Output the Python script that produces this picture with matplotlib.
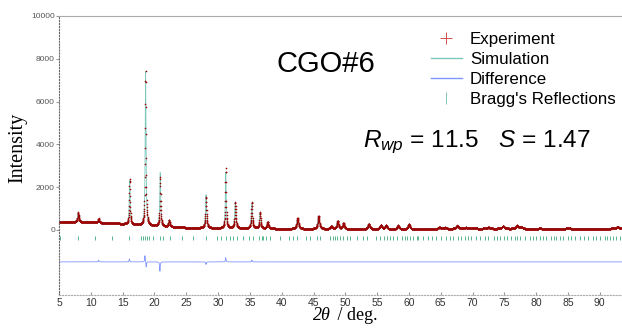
import numpy as np
import matplotlib.pyplot as plt
from matplotlib.lines import Line2D

plt.rcParams['font.family'] = ['Liberation Sans', 'DejaVu Sans']
plt.rcParams['mathtext.fontset'] = 'custom'
plt.rcParams['mathtext.rm'] = 'Liberation Sans'
plt.rcParams['mathtext.it'] = 'Liberation Sans:italic'

# background intensity read at a few angles
bg_pos = [5, 10, 15, 17, 20, 25, 30, 40, 50, 60, 70, 80, 93.5]
bg_val = [380, 350, 280, 220, 180, 100, 80, 50, 30, 20, 60, 40, 60]

# peaks: position (deg), height above background, fwhm (deg)
peak_pos = [8.0, 11.2, 16.1, 18.6, 20.9, 22.3, 28.1, 31.2, 32.7, 35.3, 36.6,
            37.8, 42.5, 45.8, 47.8, 48.8, 49.7, 53.7, 55.6, 56.4, 58.3, 60.0,
            64.8, 65.7, 67.6, 69.0, 72.5, 74.8, 77.0, 77.7, 80.6, 85.0, 92.8]
peak_h = [450, 120, 2050, 7200, 2500, 300, 1550, 2600, 1200, 1150, 750,
          320, 500, 600, 150, 380, 280, 250, 200, 180, 180, 250,
          80, 60, 150, 50, 60, 120, 150, 80, 40, 50, 80]
peak_w = [0.22, 0.25, 0.16, 0.15, 0.16, 0.22, 0.18, 0.15, 0.2, 0.2, 0.2,
          0.25, 0.3, 0.3, 0.3, 0.3, 0.3, 0.35, 0.35, 0.35, 0.35, 0.35,
          0.4, 0.4, 0.4, 0.4, 0.4, 0.45, 0.45, 0.45, 0.45, 0.5, 0.5]

# misfit (experiment - simulation) features
res_pos = [11.2, 16.05, 18.5, 18.7, 20.85, 28.1, 31.2, 35.3]
res_amp = [80, 150, 300, -250, -450, -120, 200, 80]

bragg_pos = [5.16, 8.03, 10.66, 13.28, 16.05, 17.83, 18.15, 18.46, 18.78, 19.14,
             19.81, 20.87, 21.39, 22.44, 24.28, 26.1, 28.09, 29.77, 30.4, 31.24,
             31.87, 32.39, 33.0, 33.86, 34.9, 35.43, 36.47, 36.85, 37.1, 37.6,
             38.15, 39.72, 41.2, 41.7, 42.34, 43.8, 44.43, 45.5, 46.0, 47.58,
             48.0, 48.36, 48.72, 49.15, 49.57, 50.2, 50.7, 51.8, 52.8, 53.34,
             54.9, 55.43, 56.06, 56.5, 57.0, 57.5, 58.15, 58.84, 59.36, 59.62,
             60.15, 60.66, 61.2, 61.45, 62.24, 63.02, 63.55, 64.33, 65.12, 65.9,
             66.43, 66.95, 67.73, 68.26, 68.78, 69.31, 69.83, 70.62, 71.14, 71.93,
             72.45, 73.34, 73.86, 74.28, 74.91, 75.43, 76.11, 76.64, 77.0, 77.42,
             78.21, 78.99, 79.52, 80.04, 80.57, 81.09, 81.61, 82.4, 82.77, 83.18,
             83.71, 84.23, 85.02, 85.54, 86.06, 86.85, 87.48, 88.16, 88.94, 89.47,
             90.1, 90.78, 91.14, 91.56, 92.09, 92.61, 93.13]

diff_offset = -1500
bragg_y = -380

tth = np.arange(5.0, 93.5, 0.02)
sim = np.interp(tth, bg_pos, bg_val)
for p, h, w in zip(peak_pos, peak_h, peak_w):
    g = (w / 2) ** 2
    sim = sim + h * g / ((tth - p) ** 2 + g)
res = np.zeros_like(tth)
for p, a in zip(res_pos, res_amp):
    res = res + a * 0.0025 / ((tth - p) ** 2 + 0.0025)
exp = sim + res

fig = plt.figure(figsize=(6.22, 3.33), dpi=100)
ax = fig.add_axes([0.095, 0.114, 0.905, 0.838])

ax.plot(tth, sim, color='#7cc8bc', lw=0.6)
ax.plot(tth, exp, ls='none', marker='+', ms=1.8, mew=0.4, color='#9a0606')
ax.plot(tth, exp - sim + diff_offset, color='#8096ff', lw=0.6)
ax.plot(bragg_pos, [bragg_y] * len(bragg_pos), ls='none', marker='|',
        ms=2.5, mew=0.6, color='#3aa878')

ax.set_xlim(5, 93.5)
ax.set_ylim(-3050, 10000)
ax.set_xticks(range(5, 95, 5))
ax.set_yticks(range(0, 10001, 2000))
ax.tick_params(axis='x', direction='in', length=2, labelsize=7.5,
               labelcolor='#333333', color='#999999', pad=2)
ax.tick_params(axis='y', direction='out', length=2, labelsize=6,
               labelcolor='#555555', color='#999999', pad=1)
ax.spines['right'].set_visible(False)
ax.spines['left'].set_linestyle(':')
ax.spines['left'].set_color('#666666')
ax.spines['bottom'].set_linestyle(':')
ax.spines['bottom'].set_color('#aaaaaa')
ax.spines['top'].set_color('#aaaaaa')
ax.spines['top'].set_linewidth(0.8)

fig.text(0.028, 0.556, 'Intensity', rotation=90, ha='center', va='center',
         family='Liberation Serif', fontsize=14.5)
fig.text(0.532, 0.04, '2θ', ha='right', va='baseline',
         family='Liberation Serif', style='italic', fontsize=13)
fig.text(0.535, 0.04, ' / deg.', ha='left', va='baseline',
         family='Liberation Serif', fontsize=13)

fig.text(0.445, 0.783, 'CGO#6', fontsize=21, ha='left', va='baseline')
fig.text(0.583, 0.558, r'$\it{R}_{wp}$ = 11.5   $\it{S}$ = 1.47',
         fontsize=17.6, ha='left', va='baseline')

handles = [
    Line2D([], [], ls='none', marker='+', ms=8, mew=0.7, color='#d05050'),
    Line2D([], [], color='#7cc8bc', lw=1),
    Line2D([], [], color='#8096ff', lw=1),
    Line2D([], [], ls='none', marker='|', ms=8, mew=0.7, color='#7cc8bc'),
]
labels = ['Experiment', 'Simulation', 'Difference', "Bragg's Reflections"]
fig.legend(handles, labels, loc='upper left', bbox_to_anchor=(0.693, 0.905),
           frameon=False, fontsize=12.2, handlelength=1.8, handletextpad=0.5,
           labelspacing=0.3, borderpad=0, borderaxespad=0)

fig.savefig('out.png', dpi=100)
